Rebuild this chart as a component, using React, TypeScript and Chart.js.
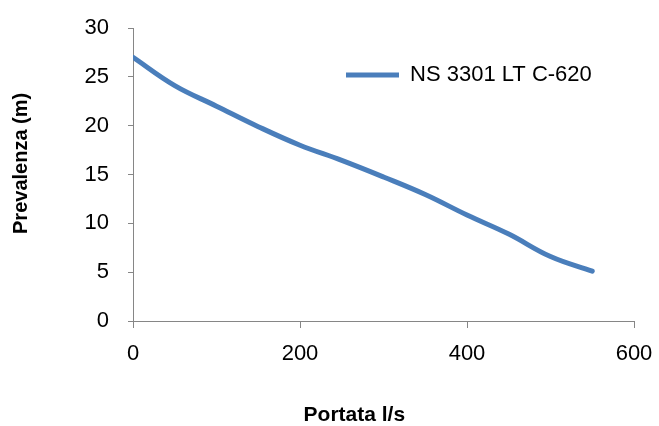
import React, { useEffect, useRef } from "react";
import { Chart, registerables } from "chart.js";

Chart.register(...registerables);

const portata: number[] = [0, 50, 100, 150, 200, 250, 300, 350, 400, 450, 500, 550];
const prevalenza: number[] = [27.0, 24.1, 22.0, 19.9, 18.0, 16.45, 14.75, 12.95, 10.85, 8.9, 6.6, 5.1];
const seriesLabel = "NS 3301 LT C-620";
const xTitle = "Portata l/s";
const yTitle = "Prevalenza (m)";
const xTicks: number[] = [0, 200, 400, 600];
const yTicks: number[] = [0, 5, 10, 15, 20, 25, 30];

const FONT = "'Liberation Sans', Arial, sans-serif";
const AXIS = "#868686";
const BLUE = "#4A7EBB";
const LEGEND_PAD = 10;

const legendPlacer = {
  id: "legendPlacer",
  afterLayout(chart: any) {
    const lg = chart.legend;
    const ca = chart.chartArea;
    if (!lg || !ca) return;
    const w = lg.right - lg.left;
    const h = lg.bottom - lg.top;
    lg.left = ca.left + 213 - LEGEND_PAD;
    lg.top = ca.top + 47 - LEGEND_PAD - 11;
    lg.right = lg.left + w;
    lg.bottom = lg.top + h;
  },
};

export default function App() {
  const ref = useRef<HTMLCanvasElement | null>(null);
  useEffect(() => {
    document.body.style.margin = "0";
    const canvas = ref.current;
    if (!canvas) return;
    const chart = new Chart(canvas, {
      type: "line",
      data: {
        datasets: [
          {
            label: seriesLabel,
            data: portata.map((x, i) => ({ x, y: prevalenza[i] })),
            borderColor: BLUE,
            backgroundColor: BLUE,
            borderWidth: 5,
            borderCapStyle: "round",
            borderJoinStyle: "round",
            pointRadius: 0,
            pointHoverRadius: 0,
            tension: 0.4,
            fill: false,
          },
        ],
      },
      plugins: [legendPlacer],
      options: {
        responsive: false,
        animation: false,
        events: [],
        layout: { padding: { top: 28, right: 25, bottom: 0, left: 0 } },
        plugins: {
          tooltip: { enabled: false },
          title: { display: false },
          legend: {
            display: true,
            position: "chartArea" as any,
            align: "start",
            labels: {
              usePointStyle: true,
              pointStyle: "line",
              pointStyleWidth: 53,
              boxHeight: 22,
              padding: LEGEND_PAD,
              color: "#000",
              font: { family: FONT, size: 22 },
            },
          },
        },
        scales: {
          x: {
            type: "linear",
            min: 0,
            max: 600,
            afterBuildTicks: (s: any) => {
              s.ticks = xTicks.map((v) => ({ value: v }));
            },
            afterFit: (s: any) => {
              s.height = 105;
              s.paddingLeft = 0;
              s.paddingRight = 0;
            },
            grid: {
              display: true,
              drawOnChartArea: false,
              drawTicks: true,
              tickLength: 7,
              color: AXIS,
              lineWidth: 1,
            },
            border: { display: true, color: AXIS, width: 1 },
            ticks: {
              color: "#000",
              padding: 13,
              maxRotation: 0,
              font: { family: FONT, size: 22 },
            },
            title: {
              display: true,
              text: xTitle + "          ",
              color: "#000",
              padding: { top: 0, bottom: 0 },
              font: { family: FONT, size: 21, weight: "bold", lineHeight: 1 },
            },
          },
          y: {
            type: "linear",
            min: 0,
            max: 30,
            afterBuildTicks: (s: any) => {
              s.ticks = yTicks.map((v) => ({ value: v }));
            },
            afterFit: (s: any) => {
              s.width = 133;
              s.paddingTop = 0;
              s.paddingBottom = 0;
            },
            grid: {
              display: true,
              drawOnChartArea: false,
              drawTicks: true,
              tickLength: 5,
              color: AXIS,
              lineWidth: 1,
            },
            border: { display: true, color: AXIS, width: 1 },
            ticks: {
              color: "#000",
              padding: 19,
              font: { family: FONT, size: 22 },
            },
            title: {
              display: true,
              text: "    " + yTitle,
              color: "#000",
              padding: { top: 11, bottom: 0 },
              font: { family: FONT, size: 20, weight: "bold", lineHeight: 1 },
            },
          },
        },
      },
    });
    return () => chart.destroy();
  }, []);
  return (
    <div style={{ width: 659, height: 426 }}>
      <canvas ref={ref} width={659} height={426} style={{ display: "block" }} />
    </div>
  );
}
